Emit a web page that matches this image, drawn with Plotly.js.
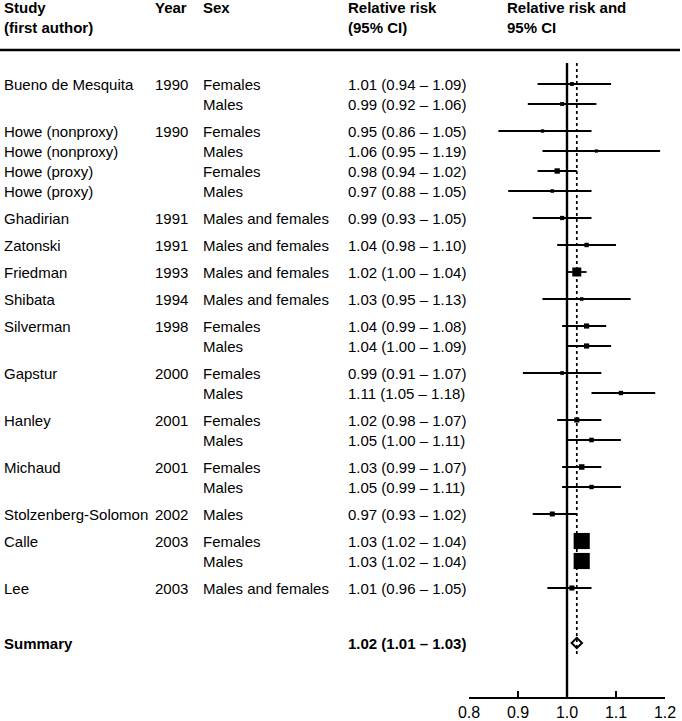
<!DOCTYPE html>
<html>
<head>
<meta charset="utf-8">
<script src="https://cdn.plot.ly/plotly-3.0.1.min.js"></script>
<style>html,body{margin:0;padding:0;background:#fff;}#chart{width:682px;height:721px;}</style>
</head>
<body>
<div id="chart"></div>
<script>
// ---- Data ----
const studies = ["Bueno de Mesquita", "", "Howe (nonproxy)", "Howe (nonproxy)", "Howe (proxy)", "Howe (proxy)",
  "Ghadirian", "Zatonski", "Friedman", "Shibata", "Silverman", "", "Gapstur", "", "Hanley", "",
  "Michaud", "", "Stolzenberg-Solomon", "Calle", "", "Lee"];
const years = ["1990", "", "1990", "", "", "", "1991", "1991", "1993", "1994", "1998", "", "2000", "",
  "2001", "", "2001", "", "2002", "2003", "", "2003"];
const sexes = ["Females", "Males", "Females", "Males", "Females", "Males",
  "Males and females", "Males and females", "Males and females", "Males and females",
  "Females", "Males", "Females", "Males", "Females", "Males", "Females", "Males",
  "Males", "Females", "Males", "Males and females"];
const groups = [1, 1, 2, 2, 2, 2, 3, 4, 5, 6, 7, 7, 8, 8, 9, 9, 10, 10, 11, 12, 12, 13];
const rr = [1.01, 0.99, 0.95, 1.06, 0.98, 0.97, 0.99, 1.04, 1.02, 1.03, 1.04, 1.04, 0.99, 1.11,
  1.02, 1.05, 1.03, 1.05, 0.97, 1.03, 1.03, 1.01];
const lo = [0.94, 0.92, 0.86, 0.95, 0.94, 0.88, 0.93, 0.98, 1.00, 0.95, 0.99, 1.00, 0.91, 1.05,
  0.98, 1.00, 0.99, 0.99, 0.93, 1.02, 1.02, 0.96];
const hi = [1.09, 1.06, 1.05, 1.19, 1.02, 1.05, 1.05, 1.10, 1.04, 1.13, 1.08, 1.09, 1.07, 1.18,
  1.07, 1.11, 1.07, 1.11, 1.02, 1.04, 1.04, 1.05];
const summaryLabel = "Summary";
const summaryRR = 1.02, summaryLo = 1.01, summaryHi = 1.03;
const xTicks = [0.8, 0.9, 1.0, 1.1, 1.2];

// ---- Layout helpers ----
const W = 682, H = 721, B = 24, PH = H - B;
const FONT = "Liberation Sans, Arial, Helvetica, sans-serif";
const ROW = 1, GAP = 1.35, SUMGAP = 2.75;
const pos = [];
groups.forEach((g, i) => {
  if (i === 0) pos.push(0);
  else pos.push(pos[i - 1] + (g === groups[i - 1] ? ROW : GAP));
});
const sumPos = pos[pos.length - 1] + SUMGAP;
const yTop = -4.2, yBot = yTop + PH / 20;

// inverse-variance weight -> box size
const sizes = rr.map((v, i) => {
  const se = (Math.log(hi[i]) - Math.log(lo[i])) / 3.92;
  const w = 1 / (se * se);
  return 2 + 0.07 * Math.sqrt(w);
});

const fmt = v => v.toFixed(2);
const ciText = (r, l, h) => fmt(r) + " (" + fmt(l) + " \u2013 " + fmt(h) + ")";

const traces = [
  {
    type: "scatter", mode: "markers", x: rr, y: pos,
    marker: { symbol: "square", size: sizes, color: "black", opacity: 1, line: { width: 0 } },
    error_x: {
      type: "data", symmetric: false,
      array: hi.map((h, i) => h - rr[i]), arrayminus: lo.map((l, i) => rr[i] - l),
      width: 0, thickness: 1.8, color: "black"
    },
    hoverinfo: "skip", cliponaxis: false
  },
  {
    type: "scatter", mode: "markers", x: [summaryRR], y: [sumPos],
    marker: { symbol: "diamond-open", size: 8, color: "black", opacity: 1, line: { width: 2, color: "black" } },
    hoverinfo: "skip", cliponaxis: false
  }
];

const px = p => p / W;
const annotations = [];
const addText = (x, y, text, bold, yref) => {
  annotations.push({
    xref: "paper", yref: yref || "y", x: px(x), y: y, xanchor: "left",
    yanchor: yref === "paper" ? "top" : "middle", align: "left", showarrow: false,
    text: bold ? "<b>" + text + "</b>" : text,
    font: { family: FONT, size: 15, color: "black" }, borderpad: 0
  });
};
// headers
addText(3, 1.003, "Study<br>(first author)", true, "paper");
addText(154, 1.003, "Year", true, "paper");
addText(202, 1.003, "Sex", true, "paper");
addText(347, 1.003, "Relative risk<br>(95% CI)", true, "paper");
addText(506, 1.003, "Relative risk and<br>95% CI", true, "paper");
// rows
pos.forEach((p, i) => {
  if (studies[i]) addText(3, p, studies[i]);
  if (years[i]) addText(154, p, years[i]);
  addText(202, p, sexes[i]);
  addText(347, p, ciText(rr[i], lo[i], hi[i]));
});
addText(3, sumPos, summaryLabel, true);
addText(347, sumPos, ciText(summaryRR, summaryLo, summaryHi), true);

const shapes = [
  { type: "line", xref: "paper", yref: "paper", x0: 0, x1: px(680), y0: 1 - 50 / PH, y1: 1 - 50 / PH,
    line: { color: "black", width: 2.6 } },
  { type: "line", xref: "x", yref: "y", x0: 1.0, x1: 1.0, y0: pos[0] - 1.05, y1: yBot,
    line: { color: "black", width: 2.4 }, layer: "below" },
  { type: "line", xref: "x", yref: "y", x0: summaryRR, x1: summaryRR, y0: pos[0] - 1.05, y1: sumPos + 0.7,
    line: { color: "black", width: 1.7, dash: "dot" }, layer: "below" }
];

const layout = {
  width: W, height: H,
  margin: { l: 0, r: 0, t: 0, b: B, pad: 0 },
  paper_bgcolor: "white", plot_bgcolor: "white",
  showlegend: false,
  font: { family: FONT, size: 15, color: "black" },
  xaxis: {
    domain: [469 / W, 665 / W], range: [0.8, 1.2],
    tickvals: xTicks, ticktext: xTicks.map(v => v.toFixed(1)),
    showline: true, linewidth: 2, linecolor: "black",
    ticks: "inside", ticklen: 6, tickwidth: 2, tickcolor: "black",
    showgrid: false, zeroline: false, fixedrange: true,
    tickfont: { family: FONT, size: 16, color: "black" }
  },
  yaxis: {
    range: [yBot, yTop], visible: false, showgrid: false, zeroline: false, fixedrange: true
  },
  shapes: shapes,
  annotations: annotations
};

Plotly.newPlot("chart", traces, layout, { displayModeBar: false, staticPlot: true });
</script>
</body>
</html>
